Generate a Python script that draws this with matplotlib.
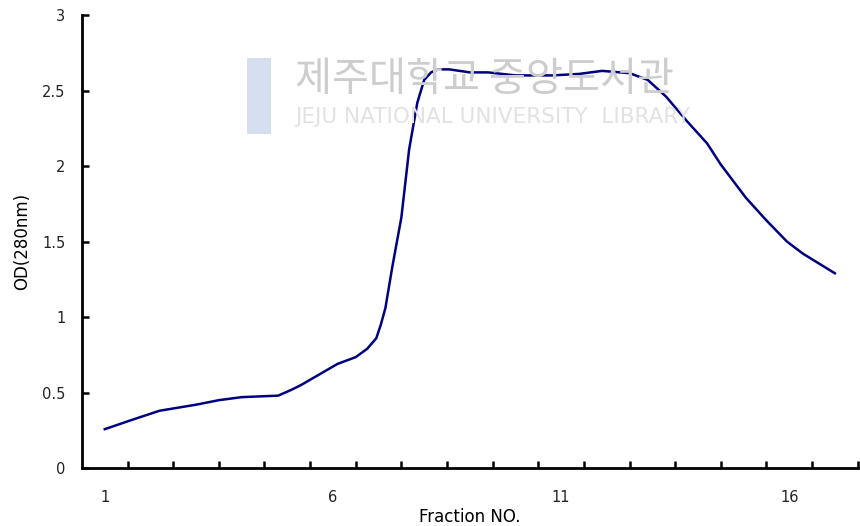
import matplotlib.pyplot as plt
from matplotlib.ticker import FixedLocator, NullFormatter

# OD(280nm)
fraction = [1.0, 1.6, 2.2, 2.6, 3.0, 3.5, 4.0, 4.8, 5.1, 5.3, 5.7, 6.1, 6.5,
            6.75, 6.95, 7.05, 7.15, 7.3, 7.5, 7.67, 7.85, 8.0, 8.15, 8.3,
            8.55, 9.0, 9.4, 10.0, 10.8, 11.4, 11.9, 12.5, 12.9, 13.3, 13.75,
            14.2, 14.5, 15.05, 15.5, 15.95, 16.3, 17.0]
od280 = [0.258, 0.32, 0.38, 0.40, 0.42, 0.45, 0.47, 0.48, 0.52, 0.55, 0.62,
         0.69, 0.735, 0.79, 0.86, 0.95, 1.06, 1.33, 1.66, 2.11, 2.42, 2.57,
         2.62, 2.64, 2.64, 2.62, 2.62, 2.60, 2.60, 2.61, 2.63, 2.615, 2.57,
         2.46, 2.30, 2.15, 2.01, 1.79, 1.64, 1.50, 1.42, 1.29]

x_labels = [1, 6, 11, 16]
y_ticks = [0, 0.5, 1, 1.5, 2, 2.5, 3]
y_labels = ["0", "0.5", "1", "1.5", "2", "2.5", "3"]

fig = plt.figure(figsize=(8.6, 5.26), dpi=100)
ax = fig.add_axes([0.0953, 0.110, 0.902, 0.8615])

# faint library watermark
fig.text(0.343, 0.848, "제주대학교 중앙도서관", family=["Noto Sans CJK KR", "DejaVu Sans"],
         fontsize=29, color="#cdcdcd", va="center", ha="left", zorder=0)
fig.text(0.343, 0.777, "JEJU NATIONAL UNIVERSITY  LIBRARY", family="DejaVu Sans",
         fontsize=15.5, color="#e2e2e2", va="center", ha="left", zorder=0)
fig.patches.append(plt.Rectangle((0.287, 0.745), 0.028, 0.145, transform=fig.transFigure,
                                 facecolor="#d6dff0", edgecolor="none", zorder=0))

ax.patch.set_alpha(0)
ax.plot(fraction, od280, color="#000080", linewidth=1.8, solid_joinstyle="round")

ax.set_xlim(0.5, 17.5)
ax.set_ylim(0, 3)

ax.xaxis.set_major_locator(FixedLocator([i + 0.5 for i in range(1, 18)]))
ax.xaxis.set_major_formatter(NullFormatter())
ax.xaxis.set_minor_locator(FixedLocator(x_labels))
ax.set_xticklabels([str(v) for v in x_labels], minor=True)
ax.tick_params(axis="x", which="major", direction="in", length=5, width=1.8)
ax.tick_params(axis="x", which="minor", length=0, pad=16, labelsize=10.5, labelcolor="#222222")

ax.set_yticks(y_ticks)
ax.set_yticklabels(y_labels)
ax.tick_params(axis="y", direction="in", length=5, width=1.8, pad=12, labelsize=10.5,
               labelcolor="#222222")

for s in ["top", "right"]:
    ax.spines[s].set_visible(False)
for s in ["left", "bottom"]:
    ax.spines[s].set_linewidth(2)

ax.set_xlabel("Fraction NO.", fontsize=12, labelpad=2)
ax.set_ylabel("OD(280nm)", fontsize=12, labelpad=8)

fig.savefig("out.png", dpi=100)
